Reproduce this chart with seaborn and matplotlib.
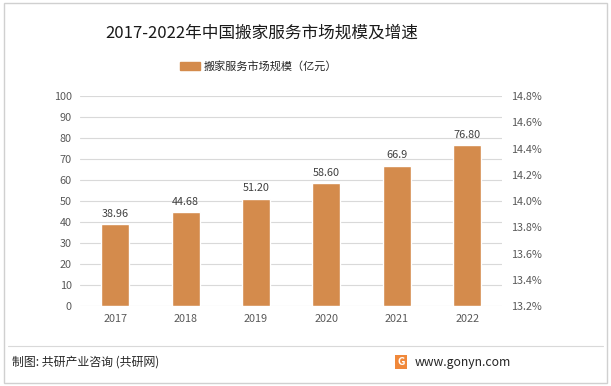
import matplotlib
matplotlib.use("Agg")
import matplotlib.pyplot as plt
import seaborn as sns
import pandas as pd
from matplotlib.patches import Rectangle
from matplotlib.ticker import FuncFormatter

# data
years = ["2017", "2018", "2019", "2020", "2021", "2022"]
market_size = [38.96, 44.68, 51.20, 58.60, 66.9, 76.80]
value_labels = ["38.96", "44.68", "51.20", "58.60", "66.9", "76.80"]
rate_ticks = [13.2, 13.4, 13.6, 13.8, 14.0, 14.2, 14.4, 14.6, 14.8]

df = pd.DataFrame({"year": years, "size": market_size})

sns.set_theme(style="white")
plt.rcParams["font.family"] = ["Noto Sans CJK SC", "DejaVu Sans"]

bar_color = "#D48B4C"
tick_color = "#595959"

fig = plt.figure(figsize=(6.11, 3.86), dpi=100)
ax = fig.add_axes([0.131, 0.207, 0.691, 0.544])

sns.barplot(data=df, x="year", y="size", color=bar_color, width=0.4,
            saturation=1, ax=ax, zorder=3)

ax.set_ylim(0, 100)
ax.set_yticks(range(0, 101, 10))
ax.set_xlim(-0.5, 5.5)
ax.grid(axis="y", color="#D9D9D9", linewidth=0.8, zorder=0)
for s in ax.spines.values():
    s.set_visible(False)
ax.set_xlabel("")
ax.set_ylabel("")
ax.tick_params(axis="both", length=0, labelsize=7.8, colors=tick_color, pad=6)

for i, (v, lab) in enumerate(zip(market_size, value_labels)):
    ax.text(i, v + 2.5, lab, ha="center", va="bottom", fontsize=7.8, color="#404040")

ax2 = ax.twinx()
ax2.set_ylim(13.2, 14.8)
ax2.set_yticks(rate_ticks)
ax2.yaxis.set_major_formatter(FuncFormatter(lambda v, p: f"{v:.1f}%"))
for s in ax2.spines.values():
    s.set_visible(False)
ax2.tick_params(axis="y", length=0, labelsize=7.8, colors=tick_color, pad=6)
ax2.grid(False)

# title and legend
fig.text(0.428, 0.915, "2017-2022年中国搬家服务市场规模及增速", ha="center", va="center",
         fontsize=12, color="#1a1a1a")
fig.patches.append(Rectangle((0.295, 0.818), 0.032, 0.022, transform=fig.transFigure,
                             color=bar_color))
fig.text(0.333, 0.829, "搬家服务市场规模（亿元）", ha="left", va="center",
         fontsize=8, color="#262626")

# footer
fig.add_artist(plt.Line2D([0.013, 0.987], [0.104, 0.104], transform=fig.transFigure,
                          color="#D9D9D9", linewidth=0.8))
fig.text(0.02, 0.062, "制图: 共研产业咨询 (共研网)", ha="left", va="center",
         fontsize=8.6, color="#262626")
fig.text(0.656, 0.062, "G", ha="center", va="center", fontsize=7.5, color="white",
         fontweight="bold",
         bbox=dict(boxstyle="square,pad=0.2", fc="#F0883A", ec="none"))
fig.text(0.678, 0.062, "www.gonyn.com", ha="left", va="center",
         fontsize=8.8, color="#262626")

# outer border
fig.patches.append(Rectangle((0.006, 0.008), 0.988, 0.984, transform=fig.transFigure,
                             fill=False, ec="#D0D0D0", linewidth=1))

fig.savefig("out.png", dpi=100)
